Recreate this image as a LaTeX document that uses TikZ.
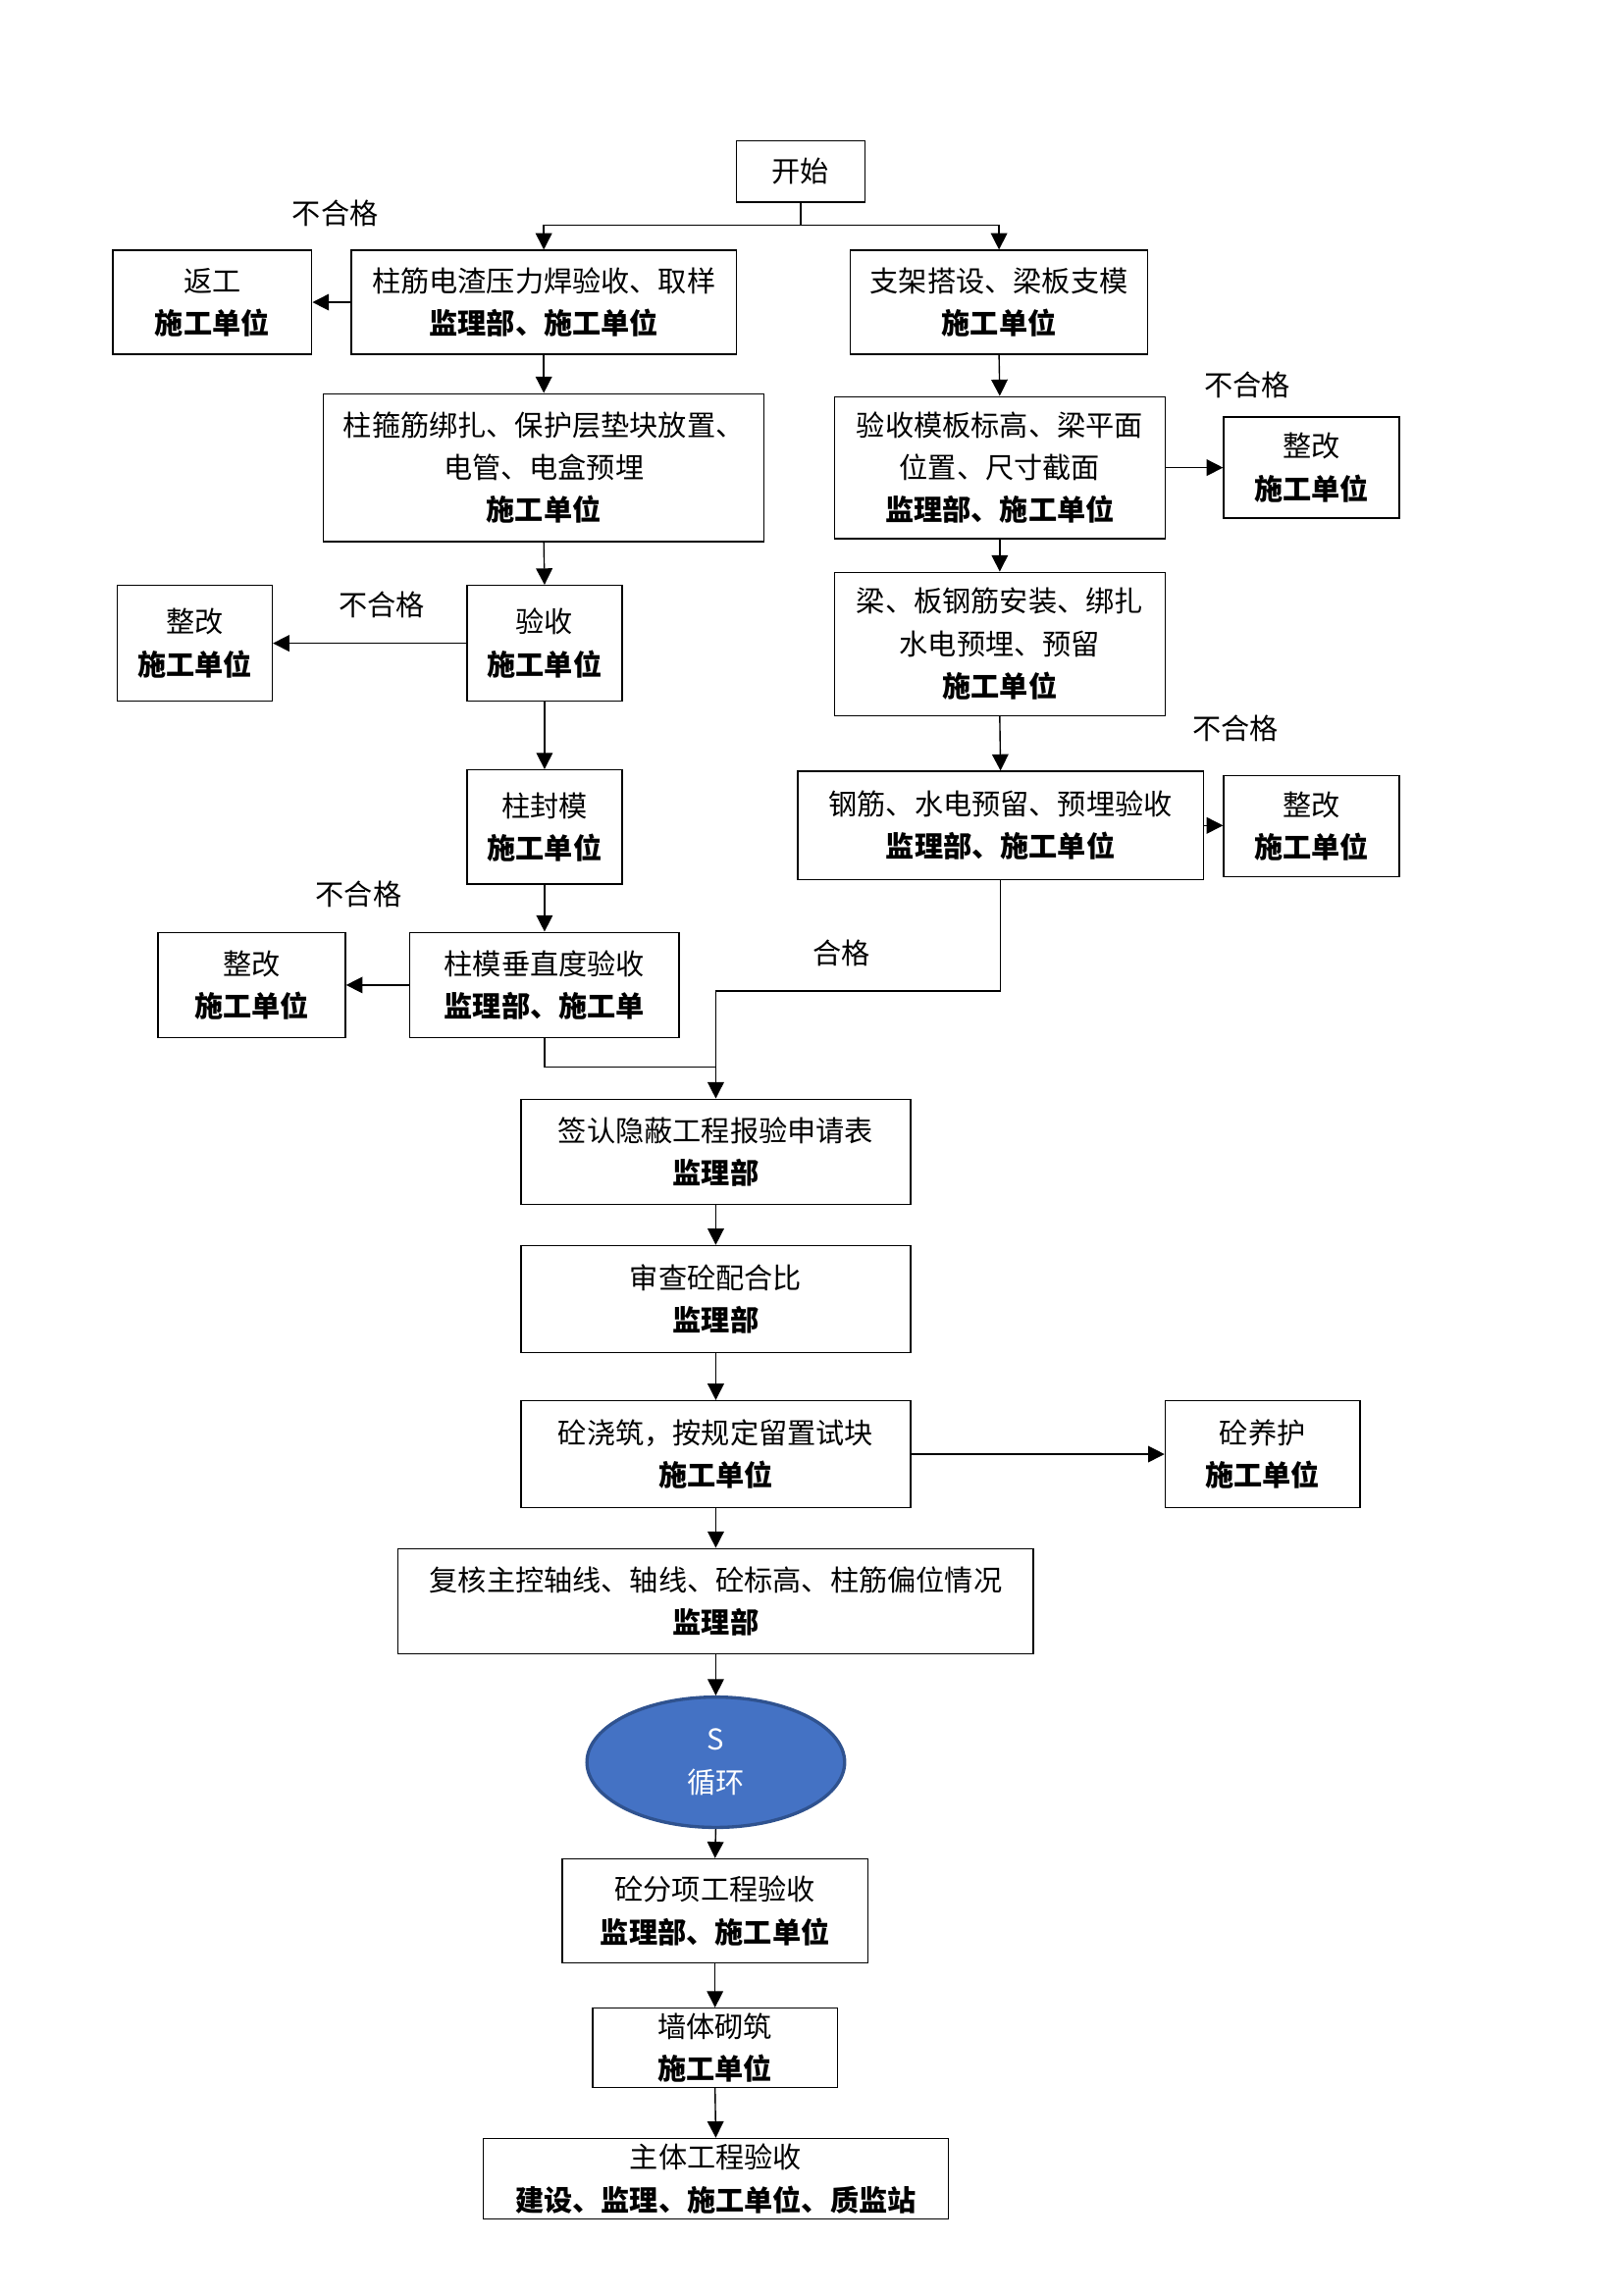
\documentclass[tikz,border=0pt]{standalone}
\usepackage{fontspec}
\setmainfont{Noto Sans CJK SC}
\usetikzlibrary{arrows.meta,shapes.geometric}
\definecolor{ellfill}{HTML}{4472C4}
\definecolor{elldraw}{HTML}{2F528F}
\begin{document}
\begin{tikzpicture}[x=0.5368pt,y=-0.5368pt,
  bx/.style={draw, line width=0.5pt, inner sep=0pt, align=center, font=\fontsize{10.5pt}{15.6pt}\selectfont},
  box/.style args={#1/#2/#3/#4}{bx, minimum width={(#3-#1)*0.5368pt}, minimum height={(#4-#2)*0.5368pt},
      at={({(#1+#3)/2},{(#2+#4)/2})}},
  arr/.style={-{Triangle[length=6pt,width=6pt]}, line width=0.5pt},
  ln/.style={line width=0.5pt},
  lbl/.style={font=\fontsize{10.5pt}{12pt}\selectfont, inner sep=0pt}]
\useasboundingbox (0,0) rectangle (1109,1568);

% boxes
\node[box=503/96/591/138] (start) {开始};
\node[box=77/171/213/242] (fangong) {返工\\\textbf{施工单位}};
\node[box=240/171/503/242] (zhujin) {柱筋电渣压力焊验收、取样\\\textbf{监理部、施工单位}};
\node[box=581/171/784/242] (zhijia) {支架搭设、梁板支模\\\textbf{施工单位}};
\node[box=221/269/522/370] (zhugu) {柱箍筋绑扎、保护层垫块放置、\\电管、电盒预埋\\\textbf{施工单位}};
\node[box=570/271/796/368] (moban) {验收模板标高、梁平面\\位置、尺寸截面\\\textbf{监理部、施工单位}};
\node[box=836/285/956/354] (zgr1) {整改\\\textbf{施工单位}};
\node[box=319/400/425/479] (yanshou) {验收\\\textbf{施工单位}};
\node[box=80/400/186/479] (zgl1) {整改\\\textbf{施工单位}};
\node[box=570/391/796/489] (liangban) {梁、板钢筋安装、绑扎\\水电预埋、预留\\\textbf{施工单位}};
\node[box=545/527/822/601] (gangjin) {钢筋、水电预留、预埋验收\\\textbf{监理部、施工单位}};
\node[box=836/530/956/599] (zgr2) {整改\\\textbf{施工单位}};
\node[box=319/526/425/604] (fengmo) {柱封模\\\textbf{施工单位}};
\node[box=280/637/464/709] (chuizhi) {柱模垂直度验收\\\textbf{监理部、施工单}};
\node[box=108/637/236/709] (zgl2) {整改\\\textbf{施工单位}};
\node[box=356/751/622/823] (qianren) {签认隐蔽工程报验申请表\\\textbf{监理部}};
\node[box=356/851/622/924] (shencha) {审查砼配合比\\\textbf{监理部}};
\node[box=356/957/622/1030] (jiaozhu) {砼浇筑，按规定留置试块\\\textbf{施工单位}};
\node[box=796/957/929/1030] (yanghu) {砼养护\\\textbf{施工单位}};
\node[box=272/1058/706/1130] (fuhe) {复核主控轴线、轴线、砼标高、柱筋偏位情况\\\textbf{监理部}};
\node[ellipse, fill=ellfill, draw=elldraw, line width=1.2pt, inner sep=0pt,
      minimum width=94.5pt, minimum height=47.8pt, text=white, align=center,
      font=\fontsize{10.5pt}{15.6pt}\selectfont] (xunhuan) at (489,1204) {S\\循环};
\node[box=384/1270/593/1341] (fenxiang) {砼分项工程验收\\\textbf{监理部、施工单位}};
\node[box=405/1372/572/1426] (qiangti) {墙体砌筑\\\textbf{施工单位}};
\node[box=330/1461/648/1516] (zhuti) {主体工程验收\\\textbf{建设、监理、施工单位、质监站}};

% labels
\node[lbl] (l1) at (229,146) {不合格};
\node[lbl] (l2) at (852,263) {不合格};
\node[lbl] (l3) at (261,413) {不合格};
\node[lbl] (l4) at (844,498) {不合格};
\node[lbl] (l5) at (245,611) {不合格};
\node[lbl] (l6) at (575,651) {合格};

% connectors
\coordinate (split) at (547,154);
\draw[ln] (start.south) -- (split);
\draw[arr] (split) -| (zhujin.north);
\draw[arr] (split) -| (zhijia.north);
\draw[arr] (zhujin.west) -- (fangong.east);
\draw[arr] (zhujin.south) -- (zhugu.north);
\draw[arr] (zhijia.south) -- (moban.north);
\draw[arr] (moban.east) -- (moban.east -| zgr1.west);
\draw[arr] (moban.south) -- (liangban.north);
\draw[arr] (liangban.south) -- (gangjin.north);
\draw[arr] (gangjin.east) -- (gangjin.east -| zgr2.west);
\draw[arr] (zhugu.south) -- (yanshou.north);
\draw[arr] (yanshou.west) -- (zgl1.east);
\draw[arr] (yanshou.south) -- (fengmo.north);
\draw[arr] (fengmo.south) -- (chuizhi.north);
\draw[arr] (chuizhi.west) -- (zgl2.east);
\coordinate (m1) at (489,677);
\coordinate (m2) at (489,729);
\draw[ln] (chuizhi.south) |- (m2);
\draw[ln] (gangjin.south) |- (m1);
\draw[arr] (m1) -- (qianren.north);
\draw[arr] (qianren.south) -- (shencha.north);
\draw[arr] (shencha.south) -- (jiaozhu.north);
\draw[arr] (jiaozhu.east) -- (yanghu.west);
\draw[arr] (jiaozhu.south) -- (fuhe.north);
\draw[arr] (fuhe.south) -- (xunhuan.north);
\draw[arr] (xunhuan.south) -- (fenxiang.north);
\draw[arr] (fenxiang.south) -- (qiangti.north);
\draw[arr] (qiangti.south) -- (zhuti.north);
\end{tikzpicture}
\end{document}
